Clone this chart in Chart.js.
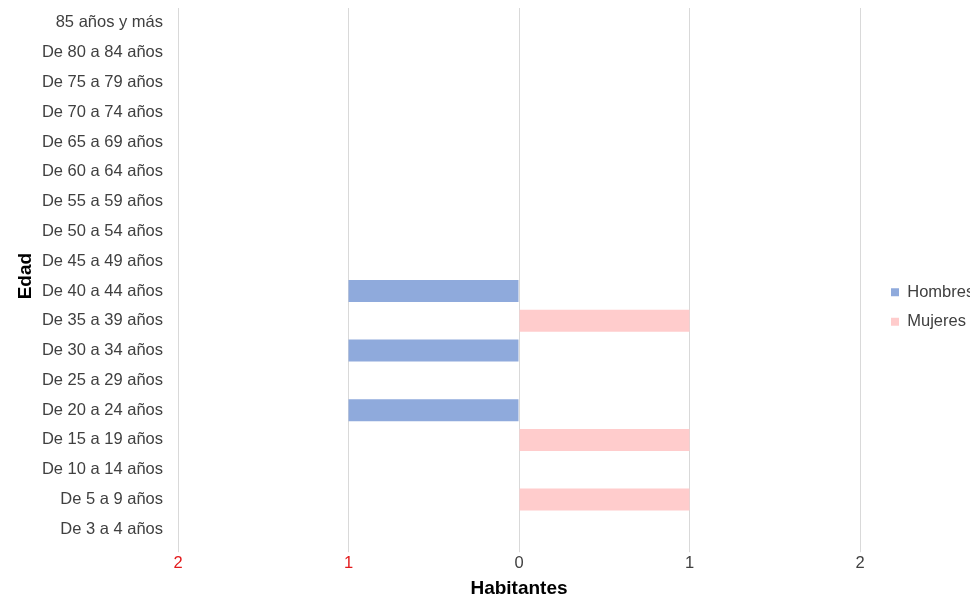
<!DOCTYPE html>
<html>
<head>
<meta charset="utf-8">
<script src="https://cdn.jsdelivr.net/npm/chart.js@4"></script>
<style>
html,body{margin:0;padding:0;background:#fff;}
#wrap{width:970px;height:595px;}
</style>
</head>
<body>
<div id="wrap"><canvas id="c" width="970" height="595"></canvas></div>
<script>
const categories = [
  "85 años y más","De 80 a 84 años","De 75 a 79 años","De 70 a 74 años","De 65 a 69 años",
  "De 60 a 64 años","De 55 a 59 años","De 50 a 54 años","De 45 a 49 años","De 40 a 44 años",
  "De 35 a 39 años","De 30 a 34 años","De 25 a 29 años","De 20 a 24 años","De 15 a 19 años",
  "De 10 a 14 años","De 5 a 9 años","De 3 a 4 años"
];
const hombres = [0,0,0,0,0,0,0,0,0,-1,0,-1,0,-1,0,0,0,0];
const mujeres = [0,0,0,0,0,0,0,0,0,0,1,0,0,0,1,0,1,0];
const xTicks = [-2,-1,0,1,2];
const seriesNames = ["Hombres","Mujeres"];

const FONT = "'Liberation Sans', Arial, sans-serif";

// keep the legend box a fixed width so the plot ends where the reference's does
const legendSizer = {
  id: 'legendSizer',
  beforeLayout(chart) {
    const lg = chart.legend;
    if (lg && !lg.__patched) {
      const orig = lg.fit;
      lg.fit = function () { orig.call(this); this.width = 110; };
      lg.__patched = true;
    }
  },
  afterLayout(chart) {
    const lg = chart.legend;
    if (lg) { lg.left = 878; lg.top += 4; lg.bottom += 4; }
  }
};

new Chart(document.getElementById('c'), {
  type: 'bar',
  data: {
    labels: categories,
    datasets: [
      { label: seriesNames[0], data: hombres, backgroundColor: '#8faadc', borderWidth: 0 },
      { label: seriesNames[1], data: mujeres, backgroundColor: '#ffcccc', borderWidth: 0 }
    ]
  },
  plugins: [legendSizer],
  options: {
    indexAxis: 'y',
    responsive: false,
    animation: false,
    devicePixelRatio: 1,
    layout: { padding: { top: 8, right: 0, left: 0, bottom: -3 } },
    plugins: {
      legend: {
        position: 'right',
        align: 'center',
        labels: {
          boxWidth: 8, boxHeight: 8, padding: 13,
          color: '#404040',
          font: { family: FONT, size: 16.5 }
        }
      },
      tooltip: { enabled: false },
      title: { display: false }
    },
    datasets: { bar: { barPercentage: 0.74, categoryPercentage: 1.0 } },
    scales: {
      x: {
        type: 'linear',
        min: -2, max: 2,
        afterBuildTicks: (s) => { s.ticks = xTicks.map(v => ({ value: v })); },
        grid: { color: '#d9d9d9', lineWidth: 1, drawTicks: true, tickLength: 8 },
        border: { display: false },
        ticks: {
          padding: 1,
          font: { family: FONT, size: 16.5 },
          color: (ctx) => (ctx.tick && ctx.tick.value < 0) ? '#e31a1c' : '#404040',
          callback: (v) => Math.abs(v)
        },
        title: {
          display: true, text: 'Habitantes', color: '#000',
          font: { family: FONT, size: 19, weight: 'bold', lineHeight: 1.0 },
          padding: { top: 5, bottom: 0 }
        }
      },
      y: {
        type: 'category',
        stacked: true,
        grid: { display: false, drawTicks: false },
        border: { display: false },
        afterFit: (s) => { s.width = 178; s.paddingTop = 0; s.paddingBottom = 0; },
        ticks: {
          padding: 15,
          autoSkip: false,
          font: { family: FONT, size: 16.5 },
          color: '#404040'
        },
        title: {
          display: true, text: 'Edad', color: '#000',
          font: { family: FONT, size: 19, weight: 'bold', lineHeight: 1.0 },
          padding: { top: 16, bottom: 0 }
        }
      }
    }
  }
});
</script>
</body>
</html>
